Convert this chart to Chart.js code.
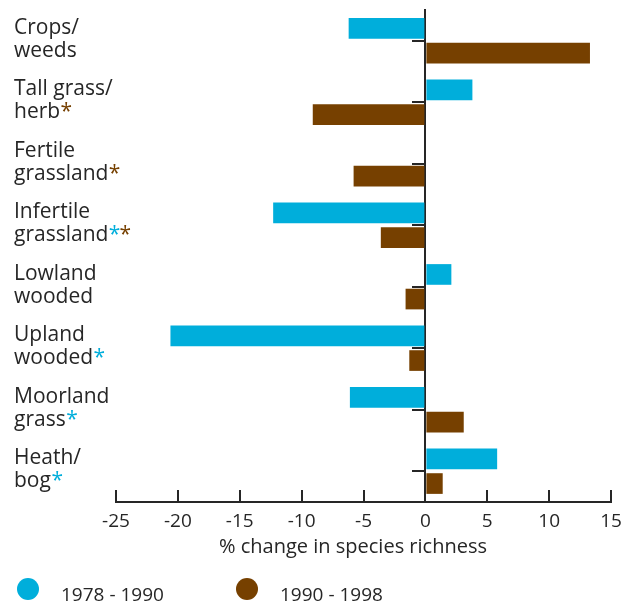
<!DOCTYPE html>
<html>
<head>
<meta charset="utf-8">
<script src="https://cdn.jsdelivr.net/npm/chart.js@4.4.1/dist/chart.umd.min.js"></script>
<style>
  html, body { margin: 0; padding: 0; background: #ffffff; }
  #wrap { width: 630px; height: 607px; position: relative; }
</style>
</head>
<body>
<div id="wrap"><canvas id="chart" width="630" height="607"></canvas></div>
<script>
// ---- data ----
const categories = ['Crops/ weeds', 'Tall grass/ herb', 'Fertile grassland', 'Infertile grassland',
                    'Lowland wooded', 'Upland wooded', 'Moorland grass', 'Heath/ bog'];
const labelLines = [['Crops/', 'weeds'], ['Tall grass/', 'herb'], ['Fertile', 'grassland'],
                    ['Infertile', 'grassland'], ['Lowland', 'wooded'], ['Upland', 'wooded'],
                    ['Moorland', 'grass'], ['Heath/', 'bog']];
const seriesNames = ['1978 - 1990', '1990 - 1998'];
const change1978to1990 = [-6.2, 3.8, 0, -12.3, 2.1, -20.6, -6.1, 5.8];
const change1990to1998 = [13.3, -9.1, -5.8, -3.6, -1.6, -1.3, 3.1, 1.4];
const significant1978to1990 = [false, false, false, true, false, true, true, true];
const significant1990to1998 = [false, true, true, true, false, false, false, false];
const xTickValues = [-25, -20, -15, -10, -5, 0, 5, 10, 15];
const axisTitle = '% change in species richness';

// ---- styles ----
const BLUE = 'rgb(0,174,219)';
const BROWN = 'rgb(118,64,0)';
const INK = '#262626';
const FONT = '"Open Sans", "Noto Sans", sans-serif';

const decorPlugin = {
  id: 'decor',
  afterDraw(chart) {
    const ctx = chart.ctx;
    const ys = chart.scales.y;
    ctx.save();
    // category labels with coloured significance asterisks
    ctx.font = '21px ' + FONT;
    ctx.textAlign = 'left';
    ctx.textBaseline = 'alphabetic';
    labelLines.forEach((lines, i) => {
      const cy = ys.getPixelForValue(i);
      ctx.fillStyle = INK;
      ctx.fillText(lines[0], 14, cy - 7);
      ctx.fillText(lines[1], 14, cy + 16);
      let x = 14 + ctx.measureText(lines[1]).width + 0.5;
      const marks = [[significant1978to1990[i], BLUE], [significant1990to1998[i], BROWN]];
      marks.forEach(([on, col]) => {
        if (!on) return;
        ctx.fillStyle = col;
        ctx.fillText('*', x, cy + 16);
        x += ctx.measureText('*').width - 1;
      });
    });
    // axis title
    ctx.fillStyle = INK;
    ctx.font = '20px ' + FONT;
    ctx.textAlign = 'center';
    ctx.fillText(axisTitle, 353, 553);
    // legend
    const ds = chart.data.datasets;
    const legendPos = [[28, 61], [247, 280]];
    ds.forEach((d, k) => {
      ctx.fillStyle = d.backgroundColor;
      ctx.beginPath();
      ctx.arc(legendPos[k][0], 589, 11, 0, Math.PI * 2);
      ctx.fill();
      ctx.fillStyle = INK;
      ctx.font = '19px ' + FONT;
      ctx.textAlign = 'left';
      ctx.fillText(d.label, legendPos[k][1], 601);
    });
    ctx.restore();
  }
};

new Chart(document.getElementById('chart'), {
  type: 'bar',
  data: {
    labels: categories,
    datasets: [
      { label: seriesNames[0], data: change1978to1990, backgroundColor: BLUE, borderWidth: 0 },
      { label: seriesNames[1], data: change1990to1998, backgroundColor: BROWN, borderWidth: 0 }
    ]
  },
  options: {
    indexAxis: 'y',
    responsive: false,
    animation: false,
    devicePixelRatio: 1,
    categoryPercentage: 0.8,
    barPercentage: 0.84,
    layout: { padding: { left: 116, right: 19, top: 10, bottom: 75 } },
    plugins: { legend: { display: false }, tooltip: { enabled: false } },
    scales: {
      x: {
        type: 'linear',
        min: -25,
        max: 15,
        afterBuildTicks: (s) => { s.ticks = xTickValues.map(v => ({ value: v })); },
        afterFit: (s) => { s.height = 30; },
        ticks: { color: INK, font: { family: FONT, size: 19, lineHeight: 2.5 }, padding: 8, maxRotation: 0 },
        grid: { drawOnChartArea: false, tickLength: -12, tickWidth: 2, lineWidth: 2, tickColor: INK },
        border: { display: true, color: INK, width: 2 }
      },
      y: {
        type: 'category',
        position: { x: 0 },
        z: 1,
        offset: true,
        ticks: { display: false },
        grid: { drawOnChartArea: false, offset: false, tickLength: 12, tickWidth: 2, lineWidth: 2, tickColor: INK },
        border: { display: true, color: INK, width: 2 }
      }
    }
  },
  plugins: [decorPlugin]
});
</script>
</body>
</html>
